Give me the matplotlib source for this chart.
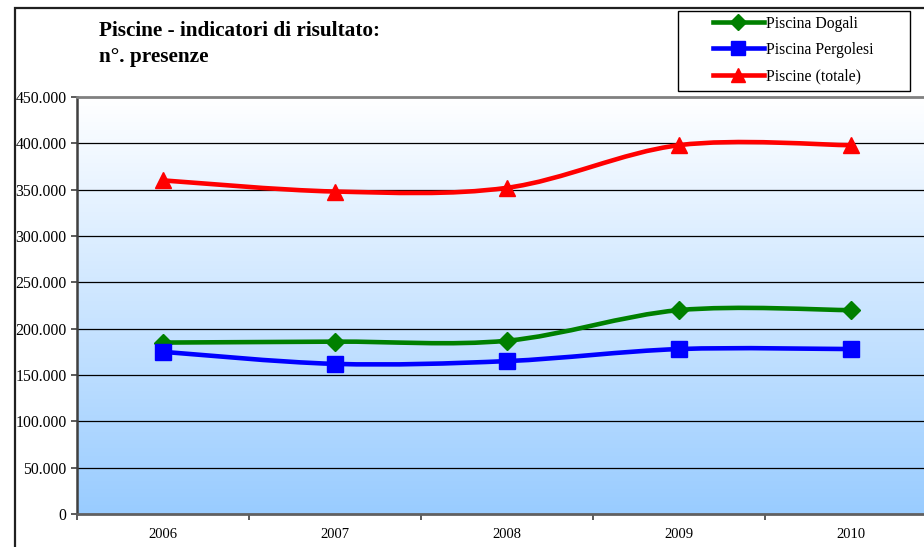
import matplotlib
matplotlib.use("Agg")
import matplotlib.pyplot as plt
import numpy as np
from matplotlib.path import Path
from matplotlib.patches import PathPatch, Rectangle
from matplotlib.colors import LinearSegmentedColormap
from matplotlib.lines import Line2D
from matplotlib.ticker import FuncFormatter, FixedLocator

# Data
years = ["2006", "2007", "2008", "2009", "2010"]
dogali = [185000, 186000, 187000, 220000, 220000]
pergolesi = [175000, 162000, 165000, 178000, 178000]
totale = [360000, 348000, 352000, 398000, 398000]
series_names = ["Piscina Dogali", "Piscina Pergolesi", "Piscine (totale)"]
y_ticks = list(range(0, 450001, 50000))

SERIF = "Liberation Serif"
W, H = 924, 547
fig = plt.figure(figsize=(W / 100, H / 100), dpi=100)
fig.patch.set_facecolor("white")

# Chart area border
fig.patches.append(Rectangle((15 / W, -0.1), 1.2, 1 - 8 / H + 0.1,
                             transform=fig.transFigure, fill=False,
                             edgecolor="#202020", linewidth=1.6, zorder=0))

ax = fig.add_axes([77 / W, 1 - 514 / H, 860 / W, 417 / H])

# Vertical gradient background of the plot area (white at top, blue below)
cmap = LinearSegmentedColormap.from_list("bg", ["#FFFFFF", "#99CCFF"])
grad = np.linspace(0, 1, 256).reshape(-1, 1)
ax.imshow(grad, cmap=cmap, extent=(0, 1, 0, 1), transform=ax.transAxes,
          aspect="auto", zorder=0, interpolation="bilinear", origin="upper")

x = np.arange(len(years), dtype=float)


def smooth_path(xs, ys):
    """Cubic Bezier path through the points (Catmull-Rom style tangents)."""
    pts = np.column_stack([xs, ys]).astype(float)
    n = len(pts)
    verts = [pts[0]]
    codes = [Path.MOVETO]
    for i in range(n - 1):
        p_prev = pts[i - 1] if i > 0 else pts[i]
        p_next2 = pts[i + 2] if i + 2 < n else pts[i + 1]
        c1 = pts[i] + (pts[i + 1] - p_prev) / 6.0
        c2 = pts[i + 1] - (p_next2 - pts[i]) / 6.0
        verts += [c1, c2, pts[i + 1]]
        codes += [Path.CURVE4] * 3
    return Path(verts, codes)


styles = [
    (dogali, "#008000", "D", 9.5),
    (pergolesi, "#0000FF", "s", 12),
    (totale, "#FF0000", "^", 12),
]

handles = []
for (vals, color, marker, ms), name in zip(styles, series_names):
    patch = PathPatch(smooth_path(x, vals), fill=False, edgecolor=color,
                      linewidth=3.3, capstyle="round", joinstyle="round",
                      zorder=3)
    ax.add_patch(patch)
    ax.plot(x, vals, linestyle="none", marker=marker, markersize=ms,
            color=color, markeredgecolor=color, zorder=4)
    handles.append(Line2D([], [], color=color, linewidth=3.3, marker=marker,
                          markersize=ms * 0.85, markeredgecolor=color))

ax.set_xlim(-0.5, len(years) - 0.5)
ax.set_ylim(0, 450000)

# Gridlines
for yv in y_ticks[1:-1]:
    ax.axhline(yv, color="#000000", linewidth=0.9, zorder=1)

# Axis styling
ax.spines["top"].set_color("#808080")
ax.spines["top"].set_linewidth(2.0)
ax.spines["right"].set_color("#808080")
ax.spines["right"].set_linewidth(2.0)
ax.spines["left"].set_color("#404040")
ax.spines["left"].set_linewidth(1.8)
ax.spines["bottom"].set_color("#606060")
ax.spines["bottom"].set_linewidth(2.0)

ax.yaxis.set_major_locator(FixedLocator(y_ticks))
ax.yaxis.set_major_formatter(FuncFormatter(
    lambda v, p: f"{int(v):,}".replace(",", ".")))
ax.tick_params(axis="y", direction="out", length=4.5, width=1.2,
               color="#404040", pad=3, labelsize=11.3, labelcolor="#000000")
for lab in ax.get_yticklabels():
    lab.set_fontfamily(SERIF)

ax.set_xticks(x)
ax.set_xticklabels(years, fontfamily=SERIF, fontsize=10.5)
ax.set_xticks(np.arange(-0.5, len(years) + 0.5, 1.0), minor=True)
ax.tick_params(axis="x", which="major", length=0, pad=10)
ax.tick_params(axis="x", which="minor", direction="out", length=4.5,
               width=1.2, color="#404040")

# Title
fig.text(99 / W, 1 - 31 / H, "Piscine - indicatori di risultato:",
         fontfamily=SERIF, fontweight="bold", fontsize=15.3, va="center",
         ha="left")
fig.text(99 / W, 1 - 57 / H, "n°. presenze", fontfamily=SERIF,
         fontweight="bold", fontsize=15.3, va="center", ha="left")

# Legend
fig.patches.append(Rectangle((678 / W, 1 - 91 / H), 232 / W, 80 / H,
                             transform=fig.transFigure, facecolor="white",
                             edgecolor="#000000", linewidth=1.0, zorder=5))
leg = fig.legend(handles, series_names, loc="upper left",
                 bbox_to_anchor=(700 / W, 1 - 3 / H), frameon=False,
                 prop={"family": SERIF, "size": 11.3}, handlelength=3.3,
                 handletextpad=0.1, labelspacing=0.66, borderpad=0.3)
leg.set_zorder(6)

fig.savefig("out.png", dpi=100)
